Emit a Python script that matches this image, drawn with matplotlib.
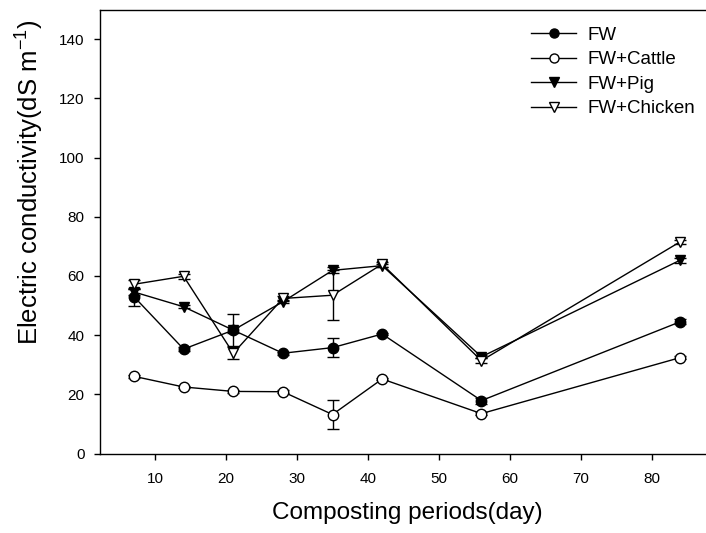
import numpy as np
import matplotlib
matplotlib.use('Agg')
from matplotlib import pyplot as plt
from matplotlib.lines import Line2D

plt.rcParams['font.family'] = ['Liberation Sans', 'DejaVu Sans']
plt.rcParams['axes.unicode_minus'] = False

days = [7, 14, 21, 28, 35, 42, 56, 84]

fw = [53.0, 35.3, 41.7, 33.9, 35.8, 40.4, 17.9, 44.5]
fw_err = [3.1, 0.8, 5.5, 0.5, 3.2, 0.5, 1.0, 0.8]

cattle = [26.1, 22.5, 21.0, 20.9, 13.2, 25.2, 13.5, 32.4]
cattle_err = [0.5, 0.5, 0.5, 0.5, 4.8, 0.5, 0.5, 0.5]

pig = [54.6, 49.6, 41.7, 51.3, 61.9, 63.5, 32.7, 65.3]
pig_err = [1.0, 0.5, 1.0, 0.5, 1.0, 0.5, 0.5, 0.8]

chicken = [57.2, 59.9, 33.9, 52.4, 53.5, 64.0, 31.4, 71.5]
chicken_err = [1.5, 0.8, 2.0, 0.8, 8.4, 0.8, 0.8, 0.8]

series = [
    ('FW', fw, fw_err, 'o', 'black'),
    ('FW+Cattle', cattle, cattle_err, 'o', 'white'),
    ('FW+Pig', pig, pig_err, 'v', 'black'),
    ('FW+Chicken', chicken, chicken_err, 'v', 'white'),
]

fig = plt.figure(figsize=(7.06, 5.33), dpi=100)
ax = fig.add_axes([0.1416, 0.149, 0.87, 0.833])

handles = []
for i, (name, y, e, m, fc) in enumerate(series):
    ax.errorbar(days, y, yerr=e, color='black', lw=1, marker=m, ms=7.5,
                mfc=fc, mec='black', mew=1, capsize=4, elinewidth=1,
                capthick=1, zorder=3 + i)
    handles.append(Line2D([], [], color='black', lw=1, marker=m, ms=6.5,
                          mfc=fc, mec='black', mew=1, label=name))

ax.set_xlim(2.2, 2.2 + 0.87 * 706 / 7.09)
ax.set_ylim(0, 150)
ax.set_xticks([10, 20, 30, 40, 50, 60, 70, 80])
ax.set_yticks([0, 20, 40, 60, 80, 100, 120, 140])
ax.tick_params(direction='out', length=4, width=1, labelsize=11)
ax.tick_params(axis='x', pad=9)
ax.tick_params(axis='y', pad=7)
for s in ax.spines.values():
    s.set_linewidth(1)

ax.set_xlabel('Composting periods(day)', fontsize=17.5, labelpad=12)
ax.set_ylabel('Electric conductivity(dS m$^{\\mathregular{-1}}$)', fontsize=18.5)
ax.yaxis.set_label_coords(-0.089, 0.61)

leg = ax.legend(handles=handles, loc='upper left', bbox_to_anchor=(0.675, 1.0),
                frameon=False, fontsize=13.5, handlelength=2.4,
                labelspacing=0.4, handletextpad=0.6)

fig.savefig('out.png', dpi=100)
